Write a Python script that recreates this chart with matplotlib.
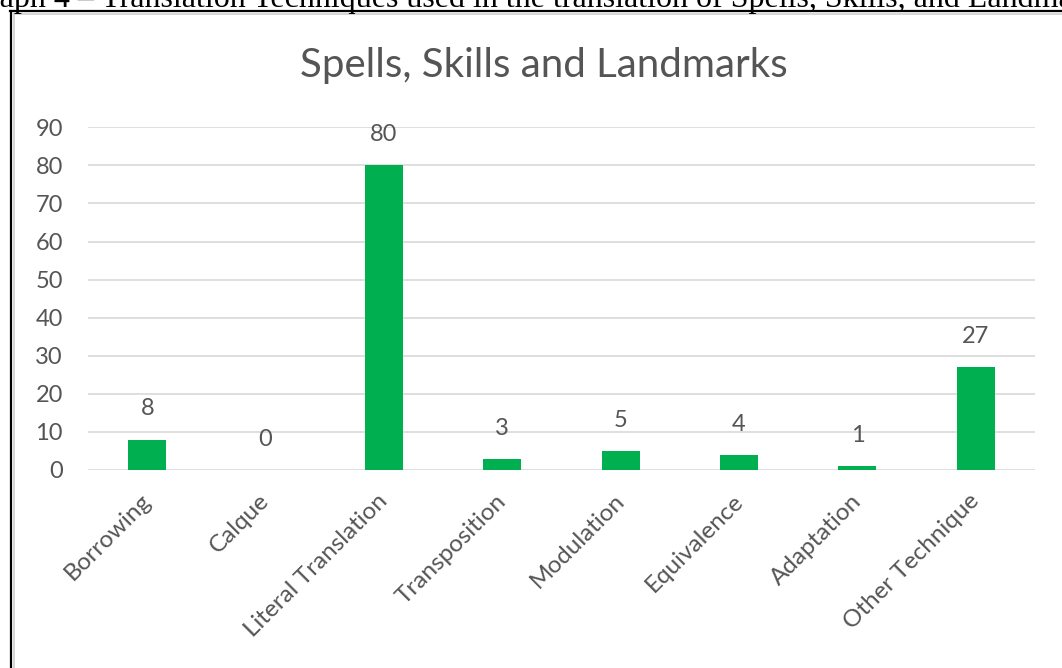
import matplotlib
matplotlib.use("Agg")
import matplotlib.pyplot as plt
from matplotlib.lines import Line2D
from matplotlib.transforms import ScaledTranslation

# Data
categories = ["Borrowing", "Calque", "Literal Translation", "Transposition",
              "Modulation", "Equivalence", "Adaptation", "Other Technique"]
counts = [8, 0, 80, 3, 5, 4, 1, 27]
y_ticks = [0, 10, 20, 30, 40, 50, 60, 70, 80, 90]
chart_title = "Spells, Skills and Landmarks"
caption = "Graph 4 \u2013 Translation Techniques used in the translation of Spells, Skills, and Landmarks"

W, H = 1062, 668
DPI = 100
BAR_COLOR = "#00B050"
TEXT_COLOR = "#555555"
GRID_COLOR = "#D9D9D9"
FONT = ["Lato", "DejaVu Sans"]

plt.rcParams["font.family"] = FONT

fig = plt.figure(figsize=(W / DPI, H / DPI), dpi=DPI)
fig.patch.set_facecolor("white")


def fx(px):
    return px / W


def fy(py):
    return 1 - py / H


# Plot area
left, right, top, bottom = 88, 1035, 127.3, 470
ax = fig.add_axes([fx(left), fy(bottom), fx(right - left), fy(top) - fy(bottom)])
x = list(range(len(categories)))
ax.bar(x, counts, width=0.32, color=BAR_COLOR, zorder=3)
ax.set_xlim(-0.5, len(categories) - 0.5)
ax.set_ylim(0, 90)
ax.set_yticks(y_ticks)
ax.yaxis.grid(True, color=GRID_COLOR, linewidth=1.2, zorder=0)
ax.set_axisbelow(True)
for s in ax.spines.values():
    s.set_visible(False)
ax.tick_params(axis="y", length=0, pad=18, labelsize=17, labelcolor=TEXT_COLOR)
ax.tick_params(axis="x", length=0, pad=16, labelsize=17.5, labelcolor=TEXT_COLOR)
ax.set_xticks(x)
ax.set_xticklabels(categories, rotation=45, ha="right", va="top",
                   rotation_mode="anchor")
shift = ScaledTranslation(-7 / DPI, 2 / DPI, fig.dpi_scale_trans)
for lbl in ax.get_xticklabels():
    lbl.set_transform(lbl.get_transform() + shift)

# Value labels above each bar
for xi, v in zip(x, counts):
    ax.annotate(str(v), (xi, v), xytext=(0, 22), textcoords="offset points",
                ha="center", va="center", fontsize=17, color=TEXT_COLOR)

# Chart title
fig.text(fx(544), fy(65), chart_title, ha="center", va="center",
         fontsize=29, color=TEXT_COLOR)

# Chart frame and surrounding table border
fig.add_artist(Line2D([fx(13.5), fx(13.5)], [fy(13.5), 0], color="#D0D0D0", lw=1.2))
fig.add_artist(Line2D([fx(13.5), 1], [fy(13.5), fy(13.5)], color="#D0D0D0", lw=1.2))
fig.add_artist(Line2D([fx(11), fx(11)], [fy(10.5), 0], color="black", lw=1.6))
fig.add_artist(Line2D([fx(10.2), 1], [fy(10.5), fy(10.5)], color="black", lw=1.6))

# Caption above the table (runs past the page edges)
CAP_SIZE = 23
renderer = fig.canvas.get_renderer()
probe = fig.text(0, 0, "Gr", fontsize=CAP_SIZE, family=["Liberation Serif"])
gr_w = probe.get_window_extent(renderer).width
probe.remove()
fig.text(fx(-gr_w), fy(6.5), caption, ha="left", va="baseline", fontsize=CAP_SIZE,
         family=["Liberation Serif"], color="black")

fig.savefig("out.png", dpi=DPI, facecolor="white")
